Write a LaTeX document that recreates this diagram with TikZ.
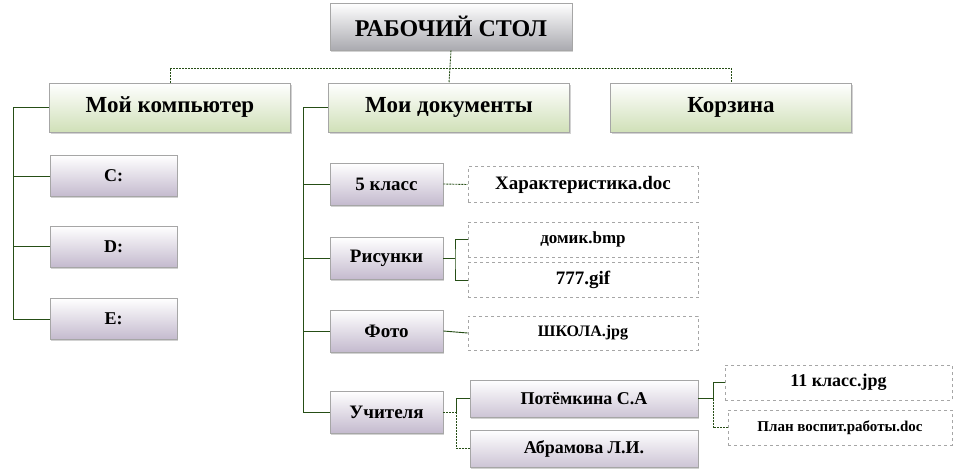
\documentclass[tikz,border=0pt]{standalone}
\usepackage{fontspec}
\setmainfont{Liberation Serif}
\usetikzlibrary{shadows,calc}
\definecolor{conn}{RGB}{38,78,22}
\definecolor{grn}{RGB}{208,224,184}
\definecolor{lav}{RGB}{196,186,206}
\definecolor{ttl}{RGB}{170,170,176}
\newcommand{\fsz}[1]{\fontsize{#1}{#1}\selectfont}
\tikzset{
  base/.style={draw=gray!70, line width=0.6pt, inner sep=0pt, font=\bfseries,
    drop shadow={shadow xshift=1.2pt, shadow yshift=-1.8pt, opacity=0.35}},
  titlebox/.style={base, top color=white, bottom color=ttl, minimum width=242pt, minimum height=47pt, font=\bfseries\fsz{24}},
  lvlone/.style={base, top color=white, bottom color=grn, minimum width=241pt, minimum height=49pt, font=\bfseries\fsz{23}},
  drivebox/.style={base, top color=white, bottom color=lav, minimum width=127pt, minimum height=41pt, font=\bfseries\fsz{18}},
  folder/.style={base, top color=white, bottom color=lav, minimum width=113pt, minimum height=42pt, font=\bfseries\fsz{19}},
  person/.style={base, top color=white, bottom color=lav!85, minimum width=228pt, minimum height=37pt, font=\bfseries\fsz{18}},
  filebox/.style={draw=gray!70, dashed, line width=0.6pt, fill=white, inner sep=0pt, minimum width=230pt, minimum height=36pt, font=\bfseries\fsz{17}},
  smallfile/.style={filebox, minimum width=225pt, minimum height=35pt},
  link/.style={draw=conn, line width=0.9pt},
  dlink/.style={link, dash pattern=on 2pt off 1pt},
}
\begin{document}
\begin{tikzpicture}[x=1pt,y=-1pt]
\useasboundingbox (0,0) rectangle (960,472);
\fill[white] (0,0) rectangle (960,472);
% top
\node[titlebox] (rs) at (451,26.5) {РАБОЧИЙ СТОЛ};
\node[lvlone] (mk) at (170,107.5) {Мой компьютер};
\node[lvlone] (md) at (449,107.5) {Мои документы};
\node[lvlone] (kz) at (731,107.5) {Корзина};
% drives
\node[drivebox] (c) at (113.5,176) {C:};
\node[drivebox] (d) at (113.5,246.5) {D:};
\node[drivebox] (e) at (113.5,319) {E:};
% folders
\node[folder] (k5) at (386.5,184) {5 класс};
\node[folder] (ris) at (386.5,258.5) {Рисунки};
\node[folder] (foto) at (386.5,331) {Фото};
\node[folder] (uch) at (386.5,412) {Учителя};
% files
\node[filebox, font=\bfseries\fsz{19}] (har) at (583,184.5) {Характеристика.doc};
\node[filebox, minimum height=35pt] (dom) at (583,239.5) {домик.bmp};
\node[filebox, minimum height=35pt, font=\bfseries\fsz{19}] (g777) at (583,280) {777.gif};
\node[filebox, minimum height=34pt, font=\bfseries\fsz{16}] (shk) at (583,333) {ШКОЛА.jpg};
% teachers
\node[person] (pot) at (584,398.5) {Потёмкина С.А};
\node[person] (abr) at (584,448.5) {Абрамова Л.И.};
\node[smallfile, minimum width=227pt, font=\bfseries\fsz{18}] (k11) at (838.5,382.5) {11 класс.jpg};
\node[smallfile, minimum width=224pt, font=\bfseries\fsz{15}] (plan) at (840,427.5) {План воспит.работы.doc};
% connectors top
\coordinate (bus) at (450,68);
\draw[dlink] (mk.north) |- (bus) -| (kz.north);
\draw[dlink] (rs.south) -- (md.north);
% left tree
\coordinate (lt) at (13,107.5);
\draw[link] (mk.west) -- (lt) |- (c.west);
\draw[link] (lt) |- (d.west);
\draw[link] (lt) |- (e.west);
% right tree
\coordinate (rt) at (303,107.5);
\draw[link] (md.west) -- (rt) |- (uch.west);
\draw[link] (rt) |- (k5.west);
\draw[link] (rt) |- (ris.west);
\draw[link] (rt) |- (foto.west);
% files
\draw[dlink] (k5.east) -- (har.west);
\coordinate (rb) at (455,258.5);
\draw[link] (ris.east) -- (rb);
\draw[link] (dom.west) -| (rb) |- (g777.west);
\draw[link] (foto.east) -- (shk.west);
\coordinate (ub) at (456,412);
\draw[dlink] (uch.east) -- (ub);
\draw[link] (pot.west) -| (ub);
\draw[dlink] (ub) |- (abr.west);
\coordinate (pb) at (713,398.5);
\draw[link] (pot.east) -- (pb);
\draw[link] (k11.west) -| (pb);
\draw[dlink] (pb) |- (plan.west);
\end{tikzpicture}
\end{document}
